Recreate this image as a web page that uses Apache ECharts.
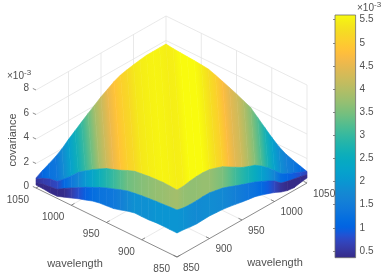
<!DOCTYPE html>
<html>
<head>
<meta charset="utf-8">
<style>html,body{margin:0;padding:0;background:#fff}#c{width:381px;height:277px}</style>
<script src="https://cdn.jsdelivr.net/npm/echarts@6/dist/echarts.min.js"></script>
</head>
<body>
<div id="c"></div>
<script>
// Wavelength offset (right axis minus left axis) of each column across the surface
const offsets = [-200,-190,-180,-170,-160,-150,-140,-130,-120,-110,-100,-90,-80,-70,-60,-50,-40,-30,-20,-10,0,10,20,30,40,50,60,70,80,90,100,110,120,130,140,150,160,170,180,190,200];
// Covariance (x 10^-3) along the surface's successive rows
const frontEdge = [0.24,0.22,0.16,0.17,0.38,0.59,0.81,0.99,1.19,1.31,1.36,1.42,1.58,1.77,1.90,1.89,1.90,1.96,1.97,1.96,1.96,1.92,1.84,1.79,1.82,1.84,1.80,1.76,1.68,1.58,1.47,1.38,1.30,1.13,0.94,0.73,0.47,0.29,0.22,0.33,0.41];
const lowerRim = [0.45,0.59,0.66,0.74,1.09,1.41,1.71,2.03,2.30,2.58,2.82,3.02,3.23,3.42,3.51,3.59,3.65,3.71,3.75,3.80,3.84,3.71,3.68,3.69,3.73,3.73,3.62,3.51,3.31,3.09,2.89,2.69,2.50,2.24,1.98,1.67,1.20,1.05,0.93,0.82,0.69];
const upperRim = [0.71,1.07,1.30,1.38,1.86,2.39,2.97,3.37,3.75,4.09,4.41,4.61,4.83,5.09,5.31,5.38,5.46,5.50,5.53,5.51,5.47,5.49,5.60,5.67,5.68,5.63,5.45,5.26,4.93,4.61,4.29,4.07,3.87,3.50,3.05,2.53,1.97,1.67,1.42,1.18,0.94];
const backEdge = [0.82,1.13,1.38,1.65,2.00,2.46,2.86,3.27,3.66,4.04,4.42,4.74,5.06,5.30,5.42,5.53,5.62,5.70,5.70,5.71,5.71,5.63,5.58,5.53,5.49,5.43,5.36,5.16,4.93,4.69,4.45,4.18,3.91,3.38,2.85,2.32,1.86,1.52,1.31,1.12,0.94];
// Colour value read across the large upper sheet
const upperShade = [0.71,1.07,1.30,1.38,1.80,2.20,2.60,3.00,3.40,3.85,4.20,4.55,4.85,5.05,5.20,5.38,5.46,5.50,5.53,5.51,5.47,5.49,5.60,5.60,5.60,5.45,5.25,5.05,4.75,4.45,4.25,3.95,3.60,3.20,2.70,2.25,1.85,1.60,1.42,1.18,0.94];
// Axes
const wavelengthTicks = [850,900,950,1000,1050];
const zTicks = [0,2,4,6,8];
const barTicks = [0.5,1,1.5,2,2.5,3,3.5,4,4.5,5,5.5];
const barRange = [0.355,5.6];
const parula = [[.2081,.1663,.5292],[.2116,.1898,.5777],[.2123,.2138,.6270],[.2081,.2386,.6771],[.1959,.2645,.7279],[.1707,.2919,.7792],[.1253,.3242,.8303],[.0591,.3598,.8683],[.0117,.3875,.8820],[.0060,.4086,.8828],[.0165,.4266,.8786],[.0329,.4430,.8720],[.0498,.4586,.8641],[.0629,.4737,.8554],[.0723,.4887,.8467],[.0779,.5040,.8384],[.0793,.5200,.8312],[.0749,.5375,.8263],[.0641,.5570,.8240],[.0488,.5772,.8228],[.0343,.5966,.8199],[.0265,.6137,.8135],[.0239,.6287,.8038],[.0231,.6418,.7913],[.0228,.6535,.7768],[.0267,.6642,.7607],[.0384,.6743,.7436],[.0590,.6838,.7254],[.0843,.6928,.7062],[.1133,.7015,.6859],[.1453,.7098,.6646],[.1801,.7177,.6424],[.2178,.7250,.6193],[.2586,.7317,.5954],[.3022,.7376,.5712],[.3482,.7424,.5473],[.3953,.7459,.5244],[.4420,.7481,.5033],[.4871,.7491,.4840],[.5300,.7491,.4661],[.5709,.7485,.4494],[.6099,.7473,.4337],[.6473,.7456,.4188],[.6834,.7435,.4044],[.7184,.7411,.3905],[.7525,.7384,.3768],[.7858,.7356,.3633],[.8185,.7327,.3498],[.8507,.7299,.3360],[.8824,.7274,.3217],[.9139,.7258,.3063],[.9450,.7261,.2886],[.9739,.7314,.2666],[.9938,.7455,.2403],[.9990,.7653,.2164],[.9955,.7861,.1967],[.9880,.8066,.1794],[.9789,.8271,.1633],[.9697,.8481,.1475],[.9626,.8705,.1309],[.9589,.8949,.1132],[.9598,.9218,.0948],[.9661,.9514,.0755],[.9763,.9831,.0538]];

const FONT = '"Liberation Sans", Arial, sans-serif';
const INK = '#505050', AXIS = '#6e6e6e', GRID = '#e3e3e3';
const LO = wavelengthTicks[0], HI = wavelengthTicks[wavelengthTicks.length-1], ZTOP = zTicks[zTicks.length-1];

// Parallel view of the 3D box onto the page
function project(left, right, z){
  const a = left-LO, b = right-LO;
  return [177-0.705*a+0.65*b, 257-0.345*a-0.37*b-12.25*z];
}
function colorOf(v){
  let t = (v-barRange[0])/(barRange[1]-barRange[0]);
  t = Math.max(0,Math.min(1,t))*(parula.length-1);
  const i = Math.min(parula.length-2,Math.floor(t)), f = t-i;
  const c = parula[i].map((p,k)=>Math.round(255*(p+(parula[i+1][k]-p)*f)));
  return 'rgb('+c.join(',')+')';
}
const frontPoint = u => u<0 ? [LO-u,LO] : [LO,LO+u];
const backPoint = u => u<0 ? [HI,HI+u] : [HI-u,HI];
function rowPoint(kind,i,z){
  const p = (kind==='back'?backPoint:frontPoint)(offsets[i]);
  return project(p[0],p[1],z);
}
const strips = [
  {from:upperRim, fromKind:'front', to:backEdge, toKind:'back', shade:upperShade},
  {from:lowerRim, fromKind:'front', to:upperRim, toKind:'front', shade:lowerRim},
  {from:frontEdge, fromKind:'front', to:lowerRim, toKind:'front', shade:frontEdge}
];
function stripSeries(s,order){
  return {
    type:'custom', coordinateSystem:'cartesian2d', xAxisIndex:0, yAxisIndex:0, silent:true, clip:false, z:5+order,
    data: offsets.slice(0,-1).map((u,i)=>[i]),
    renderItem(params,api){
      const i = params.dataIndex;
      const pts = [rowPoint(s.fromKind,i,s.from[i]), rowPoint(s.fromKind,i+1,s.from[i+1]), rowPoint(s.toKind,i+1,s.to[i+1]), rowPoint(s.toKind,i,s.to[i])].map(p=>api.coord(p));
      // colour runs across the column, square to its slanted side
      const ex = pts[3][0]-pts[0][0], ey = pts[3][1]-pts[0][1], el = Math.hypot(ex,ey)||1;
      const nx = ey/el, ny = -ex/el;
      const lx = (pts[0][0]+pts[3][0])/2, ly = (pts[0][1]+pts[3][1])/2;
      const rx = (pts[1][0]+pts[2][0])/2, ry = (pts[1][1]+pts[2][1])/2;
      const d = (rx-lx)*nx+(ry-ly)*ny;
      const g = new echarts.graphic.LinearGradient(lx,ly,lx+nx*d,ly+ny*d,[{offset:0,color:colorOf(s.shade[i])},{offset:1,color:colorOf(s.shade[i+1])}],true);
      return {type:'polygon', shape:{points:pts}, style:{fill:g, stroke:g, lineWidth:0.6}};
    }
  };
}

// Box lines, as pairs of 3D ends
const inner = wavelengthTicks.slice(1,-1);
const gridLines = [];
inner.forEach(w=>{
  gridLines.push([[w,LO,0],[w,HI,0]],[[LO,w,0],[HI,w,0]]);
  gridLines.push([[HI,w,0],[HI,w,ZTOP]],[[w,HI,0],[w,HI,ZTOP]]);
});
zTicks.forEach(z=>{ gridLines.push([[HI,LO,z],[HI,HI,z]],[[HI,HI,z],[LO,HI,z]]); });
gridLines.push([[HI,HI,0],[HI,HI,ZTOP]],[[LO,HI,0],[LO,HI,ZTOP]]);
const axisLines = [[[LO,LO,0],[HI,LO,0]],[[LO,LO,0],[LO,HI,0]]];
wavelengthTicks.forEach(w=>{
  axisLines.push([[w,LO,0],[w,LO+5,0]],[[LO,w,0],[LO+5,w,0]]);
});
zTicks.forEach(z=>{ axisLines.push([[HI,LO,z],[HI+4.5,LO,z]]); });

function lineSeries(list,color,order){
  return {
    type:'custom', coordinateSystem:'cartesian2d', xAxisIndex:0, yAxisIndex:0, silent:true, clip:false, z:order,
    data:list.map((l,i)=>[i]),
    renderItem(params,api){
      const l = list[params.dataIndex];
      const p = api.coord(project(...l[0])), q = api.coord(project(...l[1]));
      return {type:'line', shape:{x1:p[0],y1:p[1],x2:q[0],y2:q[1]}, style:{stroke:color, lineWidth:0.8}};
    }
  };
}

// Texts
const labels = [];
wavelengthTicks.forEach(w=>{
  const p = project(w,LO,0), q = project(LO,w,0);
  labels.push({text:String(w), at:[p[0]-7,p[1]+12], align:'right', size:10});
  labels.push({text:String(w), at:[q[0]+6,q[1]+11], align:'left', size:10});
});
zTicks.forEach(z=>{
  const p = project(HI,LO,z);
  labels.push({text:String(z), at:[p[0]-7,p[1]-1.5], align:'right', size:10});
});
labels.push({text:'wavelength', at:[75,264], align:'center', size:11});
labels.push({text:'wavelength', at:[275,263], align:'center', size:11});
labels.push({text:'covariance', at:[13,140], align:'center', size:11, rotate:Math.PI/2});
labels.push({text:'{m|×10}{s|-3}', at:[7,75], align:'left', size:10, rich:true});
labels.push({text:'{m|×10}{s|-3}', at:[357,7], align:'left', size:10, rich:true});

const textSeries = {
  type:'custom', coordinateSystem:'cartesian2d', xAxisIndex:0, yAxisIndex:0, silent:true, clip:false, z:20,
  data:labels.map((l,i)=>[i]),
  renderItem(params,api){
    const l = labels[params.dataIndex], p = api.coord(l.at);
    const style = {text:l.text, fill:INK, font:l.size+'px '+FONT, align:l.align, verticalAlign:'middle'};
    if(l.rich){
      style.rich = {m:{fontSize:l.size,fontFamily:'Liberation Sans',fill:INK,verticalAlign:'bottom',lineHeight:l.size+2},
                    s:{fontSize:l.size-2,fontFamily:'Liberation Sans',fill:INK,verticalAlign:'top',padding:[0,0,5,0],lineHeight:l.size}};
    }
    return {type:'text', x:p[0], y:p[1], rotation:l.rotate||0, originX:0, originY:0, style};
  }
};

const barStops = parula.map((c,i)=>({offset:i/(parula.length-1), color:'rgb('+c.map(v=>Math.round(v*255)).join(',')+')'}));
const barSeries = {
  type:'custom', coordinateSystem:'cartesian2d', xAxisIndex:1, yAxisIndex:1, silent:true, clip:false, z:3,
  data:[[0]],
  renderItem(params,api){
    const p = api.coord([0,barRange[1]]), q = api.coord([1,barRange[0]]);
    return {type:'rect', shape:{x:p[0],y:p[1],width:q[0]-p[0],height:q[1]-p[1]},
      style:{fill:new echarts.graphic.LinearGradient(0,1,0,0,barStops), stroke:AXIS, lineWidth:0.8}};
  }
};

const chart = echarts.init(document.getElementById('c'),null,{renderer:'canvas',width:381,height:277});
chart.setOption({
  animation:false,
  backgroundColor:'#ffffff',
  grid:[
    {left:0,top:0,width:381,height:277,containLabel:false},
    {left:335,top:15,width:20.6,height:242.7,containLabel:false}
  ],
  xAxis:[
    {gridIndex:0,type:'value',min:0,max:381,show:false},
    {gridIndex:1,type:'value',min:0,max:1,show:false}
  ],
  yAxis:[
    {gridIndex:0,type:'value',min:0,max:277,inverse:true,show:false},
    {gridIndex:1,type:'value',position:'right',min:barRange[0],max:barRange[1],z:10,
      splitLine:{show:false},
      axisLine:{show:false},
      axisTick:{show:true,inside:true,length:2,customValues:barTicks,lineStyle:{color:AXIS,width:0.8}},
      axisLabel:{show:true,customValues:barTicks,margin:4,color:INK,fontSize:10,fontFamily:'Liberation Sans',formatter:v=>String(v),showMinLabel:true,showMaxLabel:true}}
  ],
  series:[
    lineSeries(gridLines,GRID,1),
    lineSeries(axisLines,AXIS,2),
    barSeries,
    ...strips.map((s,i)=>stripSeries(s,i)),
    textSeries
  ]
});
</script>
</body>
</html>
